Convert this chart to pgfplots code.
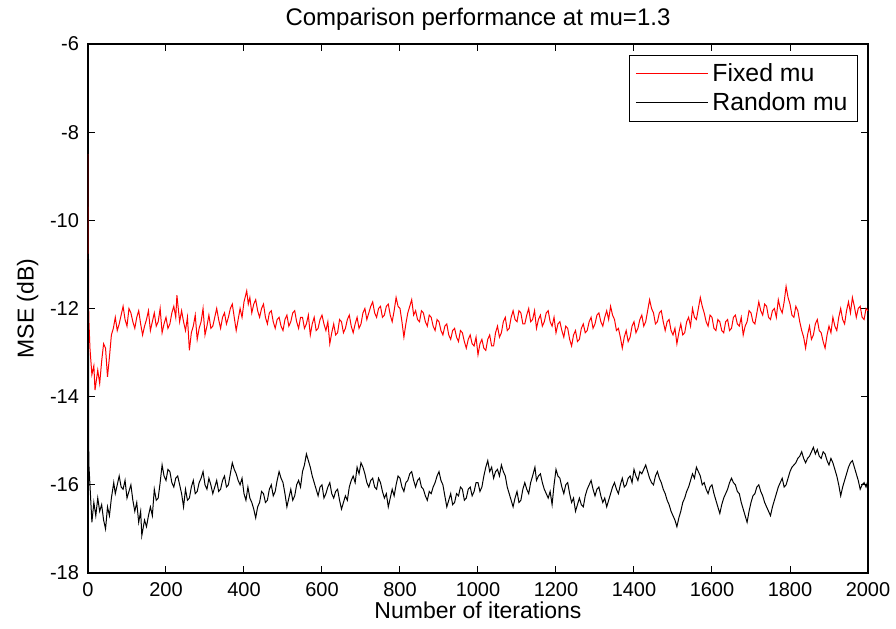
\documentclass[border=0pt]{standalone}
\usepackage{pgfplots}
\usepackage{pgfplotstable}
\pgfplotsset{compat=1.18}
\usepackage{fontspec}
\setmainfont{Liberation Sans}
\pgfplotstableread{
x y
0 -8.5
2 -12.2
5 -12.9
10 -13.5
15 -13.3
18 -13.85
25 -13.4
30 -13.7
35 -13.2
40 -12.8
45 -12.9
50 -13.55
55 -13.1
60 -12.6
65 -12.45
70 -12.2
75 -12.5
80 -12.35
85 -12.15
90 -11.95
95 -12.25
100 -12.4
105 -12.0
110 -12.1
115 -12.3
120 -12.45
125 -12.2
130 -12.05
135 -12.35
140 -12.6
145 -12.4
150 -12.25
155 -12.05
160 -12.5
165 -12.3
170 -12.1
175 -12.4
180 -12.3
185 -12.0
190 -12.55
195 -12.35
200 -12.2
205 -12.45
210 -12.35
215 -12.1
220 -11.95
225 -12.2
228 -11.7
235 -12.3
240 -12.05
245 -12.3
250 -12.5
255 -12.2
260 -12.95
265 -12.55
270 -12.4
275 -12.15
280 -12.7
285 -12.45
290 -12.3
295 -12.0
300 -12.6
305 -12.4
310 -12.15
315 -12.45
320 -12.4
325 -12.2
330 -12.0
335 -12.25
340 -12.45
345 -12.2
350 -12.1
355 -12.35
360 -12.2
365 -12.0
370 -11.9
375 -12.2
380 -12.5
385 -12.25
390 -12.0
395 -12.2
400 -11.85
407 -11.6
411 -11.9
415 -11.75
420 -12.1
425 -11.9
430 -11.8
435 -12.05
440 -12.2
445 -12.0
450 -11.9
455 -12.2
460 -12.35
465 -12.1
470 -12.05
475 -12.3
480 -12.45
485 -12.25
490 -12.2
495 -12.4
500 -12.5
505 -12.25
510 -12.15
515 -12.4
520 -12.3
525 -12.1
530 -12.05
535 -12.3
540 -12.45
545 -12.2
550 -12.2
555 -12.45
560 -12.35
565 -12.15
570 -12.6
575 -12.35
580 -12.2
585 -12.5
590 -12.45
595 -12.25
600 -12.15
605 -12.35
610 -12.5
615 -12.3
620 -12.8
625 -12.55
630 -12.35
635 -12.6
640 -12.55
645 -12.25
650 -12.3
655 -12.55
660 -12.45
665 -12.25
670 -12.15
675 -12.4
680 -12.55
685 -12.35
690 -12.2
695 -12.45
700 -12.35
705 -12.1
710 -12.0
715 -12.25
720 -12.1
725 -11.95
730 -11.85
735 -12.1
740 -12.2
745 -12.0
750 -11.95
755 -12.2
760 -12.15
765 -11.95
770 -11.9
775 -12.15
780 -12.3
785 -12.05
790 -11.75
795 -11.95
800 -12.0
805 -12.3
810 -12.65
815 -12.35
820 -12.1
825 -11.95
830 -11.8
835 -12.15
840 -12.05
845 -12.25
850 -12.3
855 -12.05
860 -12.1
865 -12.3
870 -12.4
875 -12.15
880 -12.2
885 -12.4
890 -12.5
895 -12.25
900 -12.3
905 -12.5
910 -12.6
915 -12.4
920 -12.35
925 -12.6
930 -12.7
935 -12.5
940 -12.45
945 -12.65
950 -12.75
955 -12.5
960 -12.55
965 -12.75
970 -12.9
975 -12.7
980 -12.6
985 -12.8
990 -12.85
995 -12.65
1000 -13.05
1005 -12.8
1010 -12.7
1015 -12.9
1020 -12.95
1025 -12.7
1030 -12.6
1035 -12.85
1040 -12.85
1045 -12.55
1050 -12.4
1055 -12.65
1060 -12.55
1065 -12.3
1070 -12.2
1075 -12.5
1080 -12.45
1085 -12.2
1090 -12.05
1095 -12.25
1100 -12.3
1105 -12.05
1110 -12.1
1115 -12.35
1120 -12.35
1125 -12.15
1130 -12.0
1135 -12.3
1140 -12.25
1145 -12.05
1150 -12.45
1155 -12.25
1160 -12.15
1165 -12.4
1170 -12.3
1175 -12.1
1180 -12.05
1185 -12.3
1190 -12.4
1195 -12.2
1200 -12.55
1205 -12.35
1210 -12.3
1215 -12.5
1220 -12.65
1225 -12.4
1230 -12.45
1235 -12.7
1240 -12.85
1245 -12.6
1250 -12.5
1255 -12.75
1260 -12.7
1265 -12.45
1270 -12.35
1275 -12.55
1280 -12.5
1285 -12.3
1290 -12.2
1295 -12.45
1300 -12.35
1305 -12.15
1310 -12.1
1315 -12.3
1320 -12.4
1325 -12.2
1330 -12.05
1335 -12.25
1340 -11.95
1345 -12.15
1350 -12.25
1355 -12.5
1360 -12.45
1365 -12.65
1370 -12.9
1375 -12.65
1380 -12.5
1385 -12.75
1390 -12.65
1395 -12.4
1400 -12.3
1405 -12.55
1410 -12.45
1415 -12.25
1420 -12.15
1425 -12.4
1430 -12.3
1435 -12.05
1440 -11.8
1445 -12.0
1450 -12.1
1455 -12.35
1460 -12.3
1465 -12.1
1470 -12.05
1475 -12.3
1480 -12.5
1485 -12.3
1490 -12.25
1495 -12.5
1500 -12.6
1505 -12.45
1510 -12.8
1515 -12.55
1520 -12.35
1525 -12.6
1530 -12.55
1535 -12.3
1540 -12.2
1545 -12.4
1550 -12.0
1555 -12.2
1560 -12.25
1565 -12.0
1570 -11.75
1575 -11.95
1580 -12.1
1585 -12.3
1590 -12.4
1595 -12.15
1600 -12.2
1605 -12.45
1610 -12.5
1615 -12.25
1620 -12.3
1625 -12.5
1630 -12.55
1635 -12.3
1640 -12.25
1645 -12.5
1650 -12.45
1655 -12.2
1660 -12.15
1665 -12.35
1670 -12.4
1675 -12.2
1680 -12.6
1685 -12.4
1690 -12.3
1695 -12.05
1700 -12.1
1705 -12.3
1710 -12.35
1715 -12.1
1720 -11.85
1725 -12.05
1730 -12.15
1735 -11.9
1740 -11.95
1745 -12.2
1750 -12.25
1755 -12.05
1760 -12.0
1765 -12.2
1770 -11.8
1775 -12.0
1780 -12.1
1785 -11.85
1790 -11.5
1795 -11.75
1800 -11.9
1805 -12.15
1810 -12.2
1815 -11.95
1820 -12.05
1825 -12.3
1830 -12.5
1835 -12.65
1840 -12.9
1845 -12.6
1850 -12.4
1855 -12.7
1860 -12.6
1865 -12.35
1870 -12.25
1875 -12.5
1880 -12.55
1885 -12.75
1890 -12.9
1895 -12.6
1900 -12.4
1905 -12.55
1910 -12.2
1915 -12.4
1920 -12.5
1925 -12.2
1930 -12.0
1935 -12.25
1940 -12.35
1945 -12.05
1950 -11.85
1955 -12.1
1960 -11.75
1965 -11.95
1970 -12.2
1975 -12.0
1980 -11.95
1985 -12.2
1990 -12.25
1995 -12.0
2000 -12.05
}\fixedmu
\pgfplotstableread{
x y
0 -8.5
2 -15.5
5 -16.0
10 -16.85
15 -16.4
20 -16.7
25 -16.3
30 -16.6
35 -16.45
40 -16.8
45 -17.0
50 -16.5
55 -16.7
60 -16.3
66 -15.95
70 -16.2
75 -16.0
80 -15.8
85 -16.05
90 -16.1
95 -15.9
100 -16.3
105 -16.15
110 -16.0
115 -16.35
120 -16.6
125 -16.4
130 -16.85
135 -16.6
138 -17.15
145 -16.8
150 -16.95
155 -16.7
160 -16.5
165 -16.7
170 -16.1
175 -16.35
180 -16.3
185 -15.95
190 -15.55
195 -15.8
200 -15.9
205 -15.65
210 -15.7
215 -15.95
220 -16.05
225 -15.85
230 -15.8
235 -16.0
240 -16.2
245 -16.5
250 -16.1
255 -16.35
260 -16.3
265 -16.05
270 -15.9
275 -16.2
280 -16.15
285 -15.95
290 -15.85
295 -15.7
300 -16.0
305 -16.1
310 -15.85
315 -16.0
320 -16.2
325 -16.05
330 -15.9
335 -16.15
340 -16.1
345 -15.9
350 -15.8
355 -16.05
360 -16.0
365 -15.75
370 -15.5
375 -15.65
380 -15.75
385 -15.9
390 -16.0
395 -15.85
400 -16.2
405 -16.35
410 -16.05
415 -16.3
420 -16.4
425 -16.55
430 -16.75
435 -16.5
440 -16.4
445 -16.15
450 -16.2
455 -16.4
460 -16.35
465 -16.1
470 -16.0
475 -16.25
480 -16.15
485 -15.9
490 -15.7
495 -15.85
500 -15.95
505 -16.2
510 -16.5
515 -16.3
520 -16.1
525 -16.35
530 -16.25
535 -16.0
540 -15.9
545 -16.05
550 -15.7
555 -15.55
560 -15.3
565 -15.45
570 -15.6
575 -15.8
580 -15.95
585 -16.1
590 -16.25
595 -16.05
600 -16.0
605 -16.3
610 -16.2
615 -16.05
620 -15.95
625 -16.2
630 -16.3
635 -16.15
640 -16.1
645 -16.35
650 -16.55
655 -16.4
660 -16.25
665 -16.35
670 -16.05
675 -15.9
680 -15.8
685 -15.95
690 -15.6
695 -15.75
700 -15.5
705 -15.6
710 -15.75
715 -15.95
720 -16.05
725 -15.9
730 -15.85
735 -16.05
740 -16.1
745 -15.85
750 -15.95
755 -16.15
760 -16.3
765 -16.2
770 -16.5
775 -16.3
780 -16.1
785 -16.25
790 -16.0
795 -15.8
800 -15.85
805 -16.05
810 -16.15
815 -15.95
820 -15.9
825 -15.75
830 -15.7
835 -15.9
840 -16.05
845 -15.9
850 -15.85
855 -16.05
860 -16.1
865 -16.25
870 -16.35
875 -16.15
880 -16.2
885 -16.05
890 -15.95
895 -15.8
900 -15.7
905 -15.9
910 -16.0
915 -16.25
920 -16.5
925 -16.35
930 -16.2
935 -16.45
940 -16.4
945 -16.2
950 -16.25
955 -16.05
960 -16.1
965 -16.35
970 -16.3
975 -16.1
980 -16.05
985 -16.25
990 -16.15
995 -15.95
1000 -15.95
1005 -16.15
1010 -16.05
1015 -15.8
1020 -15.6
1025 -15.45
1030 -15.7
1035 -15.6
1040 -15.85
1045 -15.7
1050 -15.65
1055 -15.8
1060 -15.55
1065 -15.7
1070 -15.8
1075 -16.05
1080 -16.2
1085 -16.35
1090 -16.5
1095 -16.3
1100 -16.15
1105 -16.4
1110 -16.35
1115 -16.1
1120 -15.95
1125 -16.1
1130 -16.2
1135 -15.95
1140 -15.8
1146 -15.6
1150 -15.9
1155 -15.8
1160 -15.75
1165 -15.95
1170 -16.1
1175 -16.2
1180 -16.3
1185 -16.15
1190 -16.45
1195 -16.0
1200 -15.65
1205 -15.8
1210 -15.85
1215 -16.05
1220 -16.2
1225 -16.0
1230 -15.95
1235 -16.2
1240 -16.4
1245 -16.3
1250 -16.6
1255 -16.45
1260 -16.3
1265 -16.45
1270 -16.5
1275 -16.25
1280 -16.1
1285 -16.0
1290 -15.9
1295 -16.1
1300 -16.25
1305 -16.1
1310 -16.05
1315 -16.25
1320 -16.4
1325 -16.3
1330 -16.5
1335 -16.35
1340 -16.2
1345 -16.05
1350 -15.95
1355 -16.1
1360 -16.2
1365 -16.0
1370 -15.85
1375 -16.05
1380 -16.0
1385 -15.85
1390 -15.8
1395 -15.95
1400 -15.65
1405 -15.8
1410 -15.9
1415 -15.7
1420 -15.75
1425 -15.65
1430 -15.55
1435 -15.7
1440 -15.85
1445 -15.95
1450 -16.0
1455 -15.8
1460 -15.7
1465 -15.85
1470 -15.95
1475 -16.1
1480 -16.2
1485 -16.35
1490 -16.45
1495 -16.6
1500 -16.7
1505 -16.8
1510 -16.95
1515 -16.75
1520 -16.6
1525 -16.4
1530 -16.3
1535 -16.15
1540 -16.05
1545 -15.9
1550 -15.75
1555 -15.85
1560 -15.6
1565 -15.7
1570 -15.8
1575 -16.0
1580 -15.95
1585 -16.1
1590 -16.2
1595 -16.05
1600 -16.0
1605 -16.2
1610 -16.35
1615 -16.5
1620 -16.65
1625 -16.45
1630 -16.3
1635 -16.2
1640 -16.1
1645 -15.95
1650 -15.85
1655 -15.95
1660 -16.0
1665 -16.15
1670 -16.2
1675 -16.4
1680 -16.55
1685 -16.7
1690 -16.85
1695 -16.6
1700 -16.4
1705 -16.25
1710 -16.2
1715 -16.05
1720 -16.0
1725 -16.15
1730 -16.25
1735 -16.4
1740 -16.5
1745 -16.6
1750 -16.7
1755 -16.5
1760 -16.35
1765 -16.2
1770 -16.05
1775 -15.95
1780 -15.85
1785 -16.05
1790 -16.0
1795 -15.85
1800 -15.7
1805 -15.6
1810 -15.55
1815 -15.5
1820 -15.4
1825 -15.35
1830 -15.25
1835 -15.4
1840 -15.5
1845 -15.4
1850 -15.35
1855 -15.25
1860 -15.15
1865 -15.3
1870 -15.2
1875 -15.35
1880 -15.4
1885 -15.25
1890 -15.3
1895 -15.45
1900 -15.55
1905 -15.4
1910 -15.5
1915 -15.65
1920 -15.8
1925 -16.0
1930 -16.25
1935 -16.05
1940 -15.9
1945 -15.75
1950 -15.6
1955 -15.5
1960 -15.45
1965 -15.6
1970 -15.75
1975 -15.9
1980 -16.1
1985 -16.0
1990 -15.95
1995 -16.05
2000 -15.9
}\randmu
\begin{document}
\begin{tikzpicture}
\useasboundingbox (-44pt,-27.5pt) rectangle (404pt,286.5pt);
\begin{axis}[
  at={(0,0)}, anchor=south west,
  scale only axis,
  width=390pt, height=264.5pt,
  xmin=0, xmax=2000, ymin=-18, ymax=-6,
  xtick={0,200,...,2000}, ytick={-18,-16,...,-6},
  tick align=inside, major tick length=3.5pt,
  xtick pos=both, ytick pos=both,
  /pgf/number format/assume math mode=true,
  /pgf/number format/set thousands separator={},
  ticklabel style={font=\fontsize{10}{12}\selectfont},
  xticklabel style={yshift=-1pt},
  yticklabel style={xshift=-1pt},
  axis line style={line width=0.6pt},
  tick style={line width=0.5pt, black},
  title={Comparison performance at mu=1.3},
  title style={font=\fontsize{12}{14}\selectfont, yshift=-3pt},
  xlabel={Number of iterations},
  ylabel={MSE (dB)},
  label style={font=\fontsize{11.5}{13}\selectfont},
  xlabel style={yshift=4pt},
  ylabel style={yshift=-1pt},
  legend style={at={(1,1)}, anchor=north east, xshift=-5pt, yshift=-5.5pt,
    font=\fontsize{12.4}{14}\selectfont, draw=black, line width=0.5pt,
    inner xsep=3pt, inner ysep=2pt, row sep=0pt},
  legend cell align=left,
  legend image code/.code={\draw[#1, line width=0.5pt] (4pt,0pt) -- (40pt,0pt);},
]
\addplot[red, line width=0.5pt] table[x=x, y=y] {\fixedmu};
\addlegendentry{Fixed mu}
\addplot[black, line width=0.5pt] table[x=x, y=y] {\randmu};
\addlegendentry{Random mu}
\end{axis}
\end{tikzpicture}
\end{document}
